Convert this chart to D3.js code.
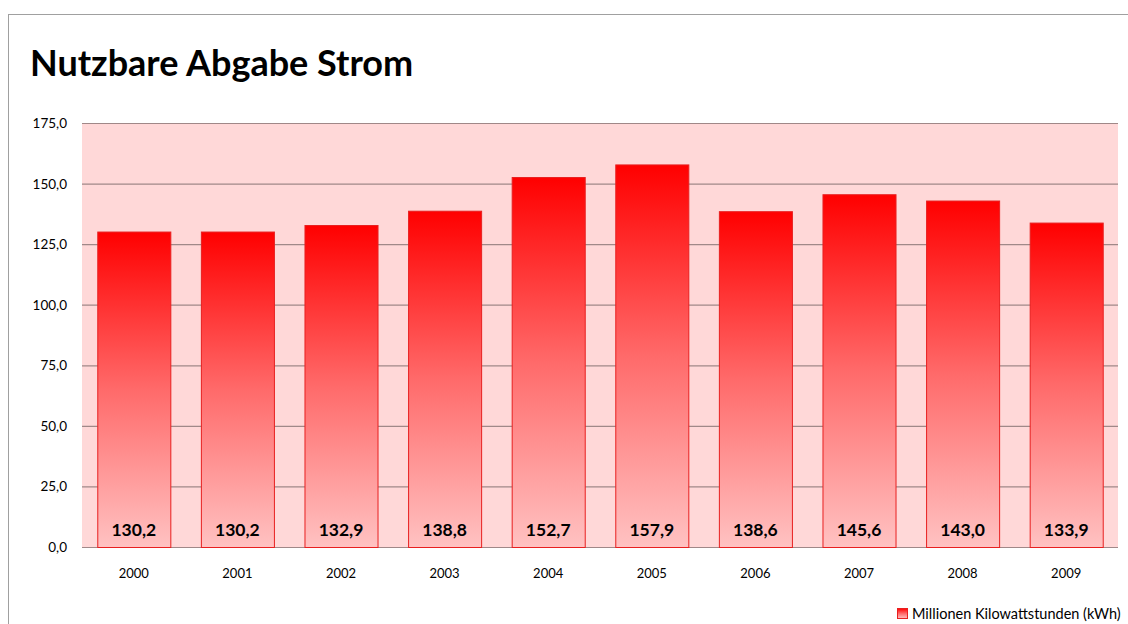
<!DOCTYPE html>
<html><head><meta charset="utf-8">
<script src="https://cdn.jsdelivr.net/npm/d3@7"></script>
<style>body{margin:0;background:#fff;}svg{display:block;font-family:Lato,"Open Sans",sans-serif;}</style>
</head><body>
<svg id="c" width="1128" height="624"></svg>
<script>
const years = ["2000","2001","2002","2003","2004","2005","2006","2007","2008","2009"];
const values = [130.2,130.2,132.9,138.8,152.7,157.9,138.6,145.6,143.0,133.9];
const yTicks = [0,25,50,75,100,125,150,175];
const title = "Nutzbare Abgabe Strom";
const seriesName = "Millionen Kilowattstunden (kWh)";

const svg = d3.select("#c");
const fmt = v => d3.format(".1f")(v).replace(".", ",");
const defs = svg.append("defs");
const g1 = defs.append("linearGradient").attr("id","bg").attr("x1",0).attr("y1",0).attr("x2",0).attr("y2",1);
g1.append("stop").attr("offset","0%").attr("stop-color","#ff0000");
g1.append("stop").attr("offset","50%").attr("stop-color","#ff6a6a");
g1.append("stop").attr("offset","100%").attr("stop-color","#ffc2c2");

// frame
svg.append("rect").attr("x",8.5).attr("y",14.5).attr("width",1130).attr("height",620)
  .attr("fill","none").attr("stroke","#a0a0a0").attr("stroke-width",1);

svg.append("text").attr("x",30).attr("y",76).attr("font-size",36).attr("font-weight","bold")
  .attr("fill","#000").text(title);

const L=82,R=1118,T=123,B=547;
const x = d3.scaleBand().domain(years).range([L,R]).paddingInner(0.295).paddingOuter(0.1475);
const y = d3.scaleLinear().domain([0,175]).range([B,T]);

svg.append("rect").attr("x",L).attr("y",T).attr("width",R-L).attr("height",B-T).attr("fill","#ffd8d8");

svg.append("g").selectAll("line").data(yTicks).join("line")
  .attr("x1",L).attr("x2",R).attr("y1",d=>y(d)+0.5).attr("y2",d=>y(d)+0.5)
  .attr("stroke","#a08888").attr("stroke-width",1.2);

svg.append("g").selectAll("text").data(yTicks).join("text")
  .attr("x",67).attr("y",d=>y(d)+5).attr("text-anchor","end").attr("font-size",13.5).attr("fill","#000")
  .text(d=>fmt(d));

svg.append("g").selectAll("rect").data(values).join("rect")
  .attr("x",(d,i)=>x(years[i])+0.5).attr("y",d=>y(d)+0.5)
  .attr("width",x.bandwidth()).attr("height",d=>B-y(d))
  .attr("fill","url(#bg)").attr("stroke","#e82020").attr("stroke-width",1);

svg.append("g").selectAll("text").data(values).join("text")
  .attr("x",(d,i)=>x(years[i])+x.bandwidth()/2).attr("y",536)
  .attr("text-anchor","middle").attr("font-size",17.5).attr("font-weight","bold").attr("fill","#000")
  .text(d=>fmt(d));

svg.append("g").selectAll("text").data(years).join("text")
  .attr("x",d=>x(d)+x.bandwidth()/2).attr("y",578)
  .attr("text-anchor","middle").attr("font-size",13).attr("fill","#000").text(d=>d);

// legend
svg.append("rect").attr("x",897.5).attr("y",608.5).attr("width",10).attr("height",10)
  .attr("fill","url(#bg)").attr("stroke","#e82020");
svg.append("text").attr("x",912).attr("y",619).attr("font-size",14.5).attr("fill","#000").text(seriesName);
</script>
</body></html>
